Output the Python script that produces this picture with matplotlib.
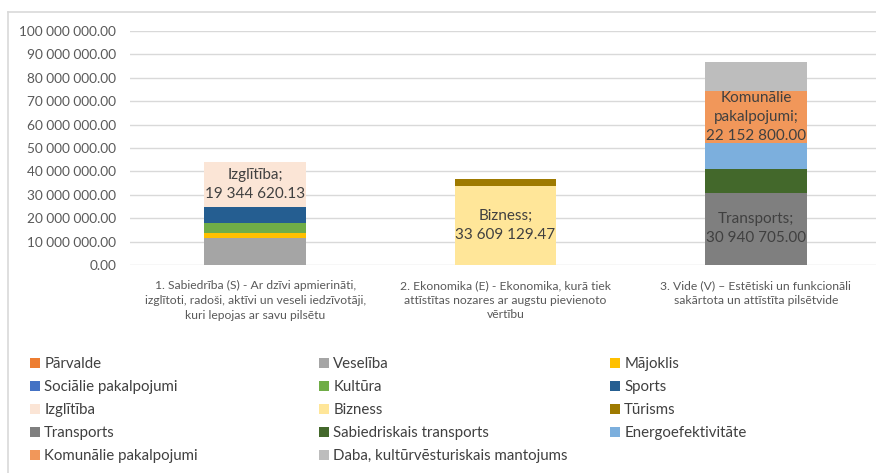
import matplotlib
matplotlib.use("Agg")
import matplotlib.pyplot as plt
from matplotlib.lines import Line2D

plt.rcParams['font.family'] = ['Lato', 'DejaVu Sans']

categories = [
    "1. Sabiedrība (S) - Ar dzīvi apmierināti,\nizglītoti, radoši, aktīvi un veseli iedzīvotāji,\nkuri lepojas ar savu pilsētu",
    "2. Ekonomika (E) - Ekonomika, kurā tiek\nattīstītas nozares ar augstu pievienoto\nvērtību",
    "3. Vide (V) – Estētiski un funkcionāli\nsakārtota un attīstīta pilsētvide",
]

series_names = ["Pārvalde", "Veselība", "Mājoklis", "Sociālie pakalpojumi", "Kultūra",
                "Sports", "Izglītība", "Bizness", "Tūrisms", "Transports",
                "Sabiedriskais transports", "Energoefektivitāte", "Komunālie pakalpojumi",
                "Daba, kultūrvēsturiskais mantojums"]

parvalde = [0, 0, 0]
veseliba = [11500000, 0, 0]
majoklis = [2100000, 0, 0]
sociale = [0, 0, 0]
kultura = [4300000, 0, 0]
sports = [6800000, 0, 0]
izglitiba = [19344620.13, 0, 0]
bizness = [0, 33609129.47, 0]
turisms = [0, 3000000, 0]
transports = [0, 0, 30940705.00]
sabiedriskais = [0, 0, 10200000]
energo = [0, 0, 11100000]
komunalie = [0, 0, 22152800.00]
daba = [0, 0, 12200000]

series_values = [parvalde, veseliba, majoklis, sociale, kultura, sports, izglitiba,
                 bizness, turisms, transports, sabiedriskais, energo, komunalie, daba]

colors = ["#ED7D31", "#A5A5A5", "#FFC000", "#4472C4", "#70AD47", "#255E91", "#FBE5D6",
          "#FFE699", "#9E7A00", "#7F7F7F", "#43682B", "#7CAFDD", "#F1975A", "#BDBDBD"]

labelled = {"Izglītība": "Izglītība;", "Bizness": "Bizness;", "Transports": "Transports;",
            "Komunālie pakalpojumi": "Komunālie\npakalpojumi;"}

yticks = [0, 10000000, 20000000, 30000000, 40000000, 50000000, 60000000,
          70000000, 80000000, 90000000, 100000000]


def fmt(v):
    s = f"{v:,.2f}"
    return s.replace(",", " ")


W, H = 876, 473
fig = plt.figure(figsize=(W / 100, H / 100), dpi=100)
ax = fig.add_axes([130 / W, (H - 265) / H, 751 / W, 234 / H])

x = list(range(len(categories)))
bottoms = [0.0] * len(categories)
handles = []
for name, vals, col in zip(series_names, series_values, colors):
    bars = ax.bar(x, vals, width=0.405, bottom=bottoms, color=col, label=name, zorder=3)
    handles.append(bars)
    if name in labelled:
        for i, v in enumerate(vals):
            if v > 0:
                ax.text(i, bottoms[i] + v / 2, labelled[name] + "\n" + fmt(v),
                        ha="center", va="center", fontsize=11, color="#404040",
                        linespacing=1.45, zorder=4)
    bottoms = [b + v for b, v in zip(bottoms, vals)]

ax.set_xlim(-0.5, 2.5)
ax.set_ylim(0, 100000000)
ax.set_yticks(yticks)
ax.set_yticklabels([fmt(v) for v in yticks], fontsize=9.8, color="#595959")
ax.set_xticks(x)
ax.set_xticklabels(categories, fontsize=8.7, color="#595959", linespacing=1.4)
ax.tick_params(axis="y", length=0, pad=10)
ax.tick_params(axis="x", length=0, pad=11)
ax.grid(axis="y", color="#D9D9D9", linewidth=1, zorder=0)
for s in ax.spines.values():
    s.set_visible(False)
ax.set_clip_on(False)

# chart border
fig.add_artist(Line2D([8 / W, 8 / W], [0, 1 - 12 / H], color="#D9D9D9", lw=1.2, transform=fig.transFigure))
fig.add_artist(Line2D([8 / W, 1], [1 - 12 / H, 1 - 12 / H], color="#D9D9D9", lw=1.2, transform=fig.transFigure))

# legend in row-major order, three columns
col_x = [30, 319, 610]
for c in range(3):
    hs = handles[c::3]
    ls = series_names[c::3]
    fig.legend(hs, ls, loc="upper left", bbox_to_anchor=(col_x[c] / W, 1 - 357 / H),
               frameon=False, fontsize=10.8, handlelength=0.65, handleheight=0.65,
               handletextpad=0.3, labelspacing=0.6, borderaxespad=0, borderpad=0,
               labelcolor="#404040")

fig.savefig("out.png", dpi=100)
